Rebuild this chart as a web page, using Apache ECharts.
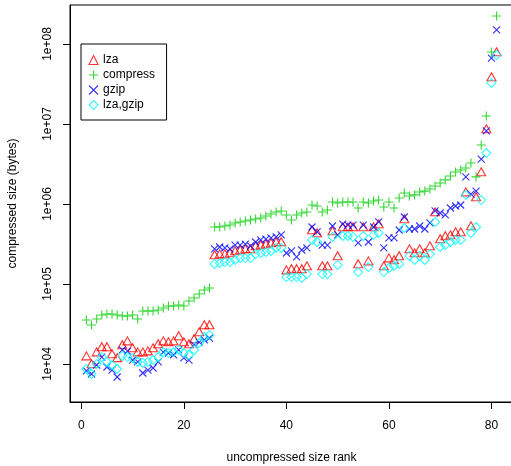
<!DOCTYPE html>
<html>
<head>
<meta charset="utf-8">
<script src="https://cdn.jsdelivr.net/npm/echarts@6/dist/echarts.min.js"></script>
<style>
  html, body { margin: 0; padding: 0; background: #fff; }
  #chart { width: 511px; height: 466px; }
</style>
</head>
<body>
<div id="chart"></div>
<script>
// compressed sizes in bytes, by uncompressed size rank 1..81
var lza = [12200, 9720, 13700, 15900, 15900, 13000, 11600, 16800, 18800, 15400, 13700, 13700, 14100, 15400, 17300, 18800, 18300, 18800, 21800, 18300, 17300, 20000, 24400, 29900, 29900,
  224000, 230000, 230000, 237000, 251000, 259000, 266000, 266000, 290000, 299000, 307000, 316000, 326000, 326000,
  145000, 150000, 150000, 150000, 163000, 460000, 422000, 163000, 163000, 447000, 218000, 501000, 501000, 501000, 173000, 501000, 188000, 501000, 546000, 163000,
  205000, 194000, 218000, 631000, 266000, 237000, 266000, 237000, 290000, 772000, 355000, 387000, 398000, 434000, 434000, 1370000, 516000, 1190000, 2440000, 8410000, 37600000, 77200000];
var compress = [35500, 30700, 36500, 41000, 42200, 42200, 41000, 39800, 39800, 41000, 36500, 46000, 46000, 46000, 47300, 50100, 53100, 53100, 54600, 53100, 61300, 66800, 75000, 84100, 89100,
  516000, 516000, 531000, 546000, 579000, 596000, 613000, 631000, 649000, 668000, 708000, 750000, 794000, 818000,
  729000, 631000, 729000, 772000, 794000, 972000, 944000, 794000, 841000, 1060000, 1030000, 1060000, 1060000, 1060000, 891000, 1060000, 1030000, 1090000, 1120000, 917000,
  1060000, 891000, 1190000, 1370000, 1260000, 1300000, 1410000, 1450000, 1540000, 1680000, 1830000, 2000000, 2240000, 2510000, 2660000, 2820000, 3260000, 2180000, 5460000, 12600000, 79400000, 224000000];
var gzip = [8180, 7500, 9720, 12200, 9170, 8410, 6880, 15000, 14500, 11200, 10600, 7720, 8410, 8910, 10600, 14100, 13700, 13000, 15000, 11900, 11200, 17300, 18800, 20000, 21100,
  274000, 290000, 282000, 274000, 307000, 307000, 316000, 299000, 335000, 355000, 365000, 376000, 387000, 410000,
  244000, 259000, 218000, 266000, 282000, 516000, 447000, 307000, 307000, 531000, 410000, 562000, 546000, 546000, 326000, 546000, 335000, 516000, 596000, 282000,
  376000, 376000, 473000, 688000, 487000, 487000, 531000, 487000, 579000, 818000, 772000, 729000, 891000, 944000, 972000, 2180000, 1330000, 1450000, 3650000, 8180000, 66800000, 150000000];
var lzaGzip = [8660, 7500, 10000, 12200, 10600, 9720, 8660, 12600, 12200, 11900, 10600, 10300, 10600, 11200, 12200, 14100, 13700, 14100, 15000, 13700, 13000, 15000, 18300, 21800, 23000,
  178000, 183000, 188000, 188000, 200000, 211000, 211000, 211000, 237000, 244000, 251000, 259000, 282000, 282000,
  122000, 122000, 122000, 119000, 133000, 355000, 335000, 133000, 133000, 387000, 173000, 398000, 398000, 387000, 141000, 398000, 163000, 410000, 434000, 141000,
  159000, 168000, 178000, 501000, 224000, 200000, 224000, 200000, 237000, 596000, 290000, 307000, 335000, 355000, 355000, 1300000, 434000, 516000, 1120000, 4340000, 32600000, 72900000];

var xTicks = [0, 20, 40, 60, 80];
var yTicks = [4, 5, 6, 7, 8]; // powers of ten

var FONT = '"Liberation Sans", Arial, Helvetica, sans-serif';
var PLUS = 'path://M5,0L5,10M0,5L10,5';
var CROSS = 'path://M0,0L10,10M10,0L0,10';

// [rank, log10(size)] pairs
function toPoints(arr) {
  return arr.map(function (v, i) { return [i + 1, Math.log10(v)]; });
}

function makeSeries(name, data, symbol, size, color, offset) {
  return {
    name: name,
    type: 'scatter',
    data: toPoints(data),
    symbol: symbol,
    symbolSize: size,
    symbolOffset: offset || [0, 0],
    itemStyle: { color: 'rgba(0,0,0,0)', borderColor: color, borderWidth: 1.1 },
    emphasis: { disabled: true }
  };
}

var myChart = echarts.init(document.getElementById('chart'));
var option = {
  animation: false,
  grid: {
    left: 70, right: -2, top: 5, bottom: 64,
    containLabel: false,
    outerBoundsMode: 'none',
    show: true, borderColor: '#000', borderWidth: 1
  },
  legend: {
    orient: 'vertical',
    left: 81, top: 44,
    padding: [8.5, 11.5, 7.5, 7.5],
    borderColor: '#000', borderWidth: 1,
    itemWidth: 9, itemHeight: 9, itemGap: 0,
    selectedMode: false,
    textStyle: { fontSize: 12, lineHeight: 15, color: '#000', fontFamily: FONT },
    data: [
      { name: 'lza', icon: 'triangle', itemStyle: { color: 'rgba(0,0,0,0)', borderColor: '#ff0000', borderWidth: 1.1 } },
      { name: 'compress', icon: PLUS, itemStyle: { color: 'rgba(0,0,0,0)', borderColor: '#00cd00', borderWidth: 1.1 } },
      { name: 'gzip', icon: CROSS, itemStyle: { color: 'rgba(0,0,0,0)', borderColor: '#0000ff', borderWidth: 1.1 } },
      { name: 'lza,gzip', icon: 'diamond', itemStyle: { color: 'rgba(0,0,0,0)', borderColor: '#00ffff', borderWidth: 1.1 } }
    ]
  },
  xAxis: {
    type: 'value',
    min: -2.2, max: 84.2,
    name: 'uncompressed size rank',
    nameLocation: 'middle',
    nameGap: 50,
    nameTextStyle: { fontSize: 12, color: '#000', fontFamily: FONT },
    axisLine: { onZero: false, lineStyle: { color: '#000', width: 1 } },
    axisTick: { length: 7, customValues: xTicks, lineStyle: { color: '#000' } },
    axisLabel: { customValues: xTicks, margin: 18, fontSize: 12, color: '#000', fontFamily: FONT },
    splitLine: { show: false }
  },
  yAxis: {
    type: 'value',
    min: 3.525, max: 8.4875,
    name: 'compressed size (bytes)',
    nameLocation: 'middle',
    nameGap: 51,
    nameTextStyle: { fontSize: 12, color: '#000', fontFamily: FONT },
    axisLine: { onZero: false, lineStyle: { color: '#000', width: 1 } },
    axisTick: { length: 7, customValues: yTicks, lineStyle: { color: '#000' } },
    axisLabel: {
      customValues: yTicks, rotate: 90, margin: 16, fontSize: 12, color: '#000', fontFamily: FONT,
      formatter: function (v) { return '1e+' + ('0' + v).slice(-2); }
    },
    splitLine: { show: false }
  },
  series: [
    makeSeries('lza', lza, 'triangle', [9, 8], '#ff0000', [0, -1.2]),
    makeSeries('compress', compress, PLUS, 9, '#00cd00'),
    makeSeries('gzip', gzip, CROSS, 7, '#0000ff'),
    makeSeries('lza,gzip', lzaGzip, 'diamond', 9, '#00ffff')
  ]
};
myChart.setOption(option);
</script>
</body>
</html>
